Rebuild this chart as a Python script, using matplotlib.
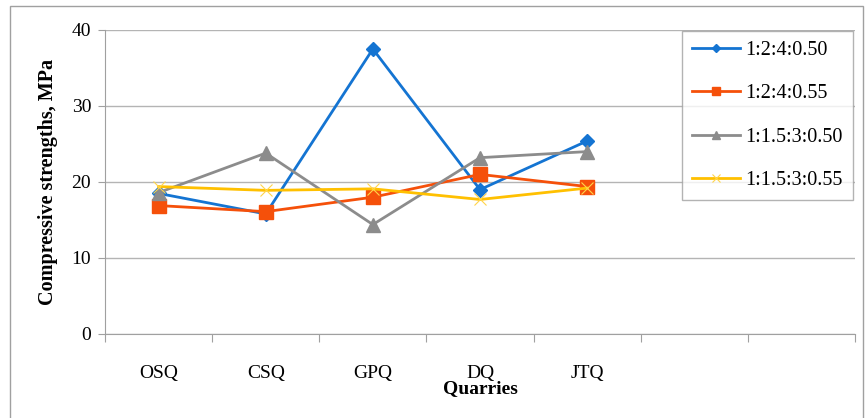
import matplotlib.pyplot as plt
from matplotlib.patches import Rectangle

plt.rcParams['font.family'] = ['Liberation Serif', 'DejaVu Serif']

quarries = ['OSQ', 'CSQ', 'GPQ', 'DQ', 'JTQ']
n_slots = 7  # axis has two empty category slots on the right

mix_a = [18.5, 15.8, 37.5, 19.0, 25.4]   # 1:2:4:0.50
mix_b = [16.9, 16.1, 18.0, 21.0, 19.4]   # 1:2:4:0.55
mix_c = [18.6, 23.8, 14.4, 23.2, 24.0]   # 1:1.5:3:0.50
mix_d = [19.4, 18.9, 19.1, 17.7, 19.2]   # 1:1.5:3:0.55
labels = ['1:2:4:0.50', '1:2:4:0.55', '1:1.5:3:0.50', '1:1.5:3:0.55']

W, H = 865, 418
fig = plt.figure(figsize=(W / 100, H / 100), dpi=100)
ax = fig.add_axes([105 / W, 1 - 334 / H, 750 / W, 304 / H])

# outer chart frame
fig.add_artist(Rectangle((10 / W, -0.01), 853 / W, 1 - 6 / H + 0.01,
                         transform=fig.transFigure, fill=False,
                         edgecolor='#a0a0a0', linewidth=1.0))

x = list(range(len(quarries)))
lw = 2.0
ax.plot(x, mix_a, color='#1474d2', lw=lw, marker='D', ms=7, label=labels[0], zorder=3)
ax.plot(x, mix_b, color='#f5500a', lw=lw, marker='s', ms=9.5, label=labels[1], zorder=3)
ax.plot(x, mix_c, color='#8c8c8c', lw=lw, marker='^', ms=9.5, label=labels[2], zorder=3)
ax.plot(x, mix_d, color='#ffc000', lw=lw, marker='x', ms=8, mew=0.8,
        mec='#ffd54a', label=labels[3], zorder=3)

ax.set_xlim(-0.5, n_slots - 0.5)
ax.set_ylim(0, 40)
ax.set_yticks([0, 10, 20, 30, 40])
ax.yaxis.grid(True, color='#b4b4b4', linewidth=1.0)
ax.set_axisbelow(True)

ax.set_xticks([i - 0.5 for i in range(n_slots + 1)])
ax.set_xticklabels([])
ax.set_xticks(x, minor=True)
ax.set_xticklabels(quarries, minor=True)
ax.tick_params(axis='x', which='major', length=6, color='#a0a0a0', direction='out')
ax.tick_params(axis='x', which='minor', length=0, pad=22, labelsize=14)
ax.tick_params(axis='y', length=5, color='#a0a0a0', labelsize=14, pad=5)

for s in ['top', 'right']:
    ax.spines[s].set_visible(False)
for s in ['left', 'bottom']:
    ax.spines[s].set_color('#a0a0a0')

ax.set_xlabel('Quarries', fontsize=14, fontweight='bold', labelpad=-1)
ax.set_ylabel('Compressive strengths, MPa', fontsize=14.5, fontweight='bold', labelpad=10)

leg = ax.legend(loc='upper left', bbox_to_anchor=(577 / 750, 0.997), fontsize=14.5,
                frameon=True, fancybox=False, edgecolor='#a0a0a0',
                handlelength=2.4, handletextpad=0.25, labelspacing=1.2,
                borderpad=0.5, borderaxespad=0, markerscale=0.65)
leg.get_frame().set_linewidth(1.0)

fig.savefig('out.png', dpi=100)
